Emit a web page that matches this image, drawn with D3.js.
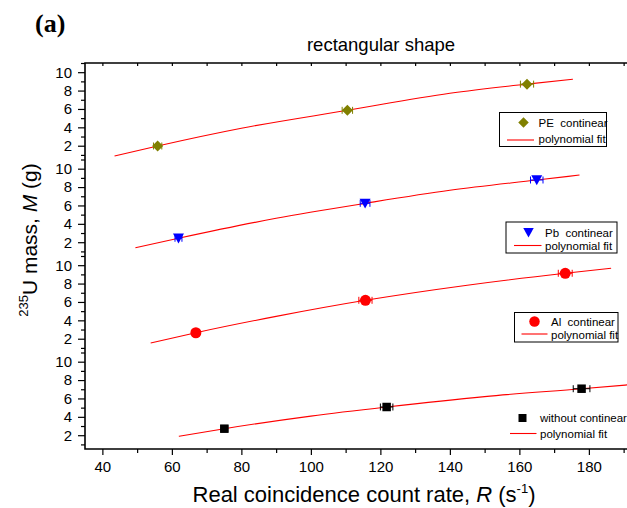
<!DOCTYPE html>
<html>
<head>
<meta charset="utf-8">
<script src="https://cdn.jsdelivr.net/npm/d3@7"></script>
<style>
  body { margin: 0; background: #fff; }
  svg text { font-family: "Liberation Sans", Arial, sans-serif; fill: #000; }
</style>
</head>
<body>
<svg id="chart" width="627" height="508"></svg>
<script>
// Values (R in s^-1, M in g)
const seriesNames = ["PE  continear", "Pb  continear", "Al  continear", "without continear"];
const seriesColors = ["#808000", "#0000ff", "#ff0000", "#000000"];

const peRate = [55.9, 110.5, 162.2];
const peMass = [1.97, 5.85, 8.70];
const peRateErr = [1.2, 1.5, 1.9];
const peMassErr = [0.1, 0.15, 0.2];
const peFitRate = [43.5, 55.9, 80, 110.5, 140, 162.2, 175.4];
const peFitMass = [0.88, 1.97, 3.9, 5.85, 7.7, 8.70, 9.23];

const pbRate = [61.9, 115.6, 165.0];
const pbMass = [2.43, 6.23, 8.77];
const pbRateErr = [1.0, 1.4, 1.8];
const pbMassErr = [0.25, 0.3, 0.3];
const pbFitRate = [49.5, 61.9, 90, 115.6, 140, 165.0, 177.3];
const pbFitMass = [1.40, 2.43, 4.6, 6.23, 7.65, 8.77, 9.31];

const alRate = [66.9, 115.7, 173.2];
const alMass = [2.65, 6.18, 9.12];
const alRateErr = [1.0, 1.9, 2.0];
const alMassErr = [0.1, 0.15, 0.2];
const alFitRate = [53.9, 66.9, 90, 115.7, 145, 173.2, 186.4];
const alFitMass = [1.53, 2.65, 4.43, 6.18, 7.82, 9.12, 9.66];

const noRate = [75.1, 121.8, 177.9];
const noMass = [2.71, 5.07, 7.06];
const noRateErr = [1.0, 1.8, 2.4];
const noMassErr = [0.1, 0.15, 0.2];
const noFitRate = [62.0, 75.1, 100, 121.8, 150, 177.9, 195];
const noFitMass = [1.88, 2.71, 4.08, 5.07, 6.2, 7.06, 7.6];

const xMajorTicks = [40, 60, 80, 100, 120, 140, 160, 180];
const xMinorTicks = [50, 70, 90, 110, 130, 150, 170, 190];
const yMajorTicks = [2, 4, 6, 8, 10];
const yMinorTicks = [1, 3, 5, 7, 9, 11];

const svg = d3.select("#chart");
const width = 627;

const plotLeft = 85;
const plotTop = 63;
const panelHeight = 96.5;
const plotBottom = plotTop + panelHeight * 4;

const x = d3.scaleLinear().domain([35, 195]).range([plotLeft, 641]);

function panelScale(i) {
  const top = plotTop + i * panelHeight;
  return d3.scaleLinear().domain([0.5, 11]).range([top + panelHeight, top]);
}

const series = [
  { rate: peRate, mass: peMass, rErr: peRateErr, mErr: peMassErr, fitR: peFitRate, fitM: peFitMass, symbol: "diamond" },
  { rate: pbRate, mass: pbMass, rErr: pbRateErr, mErr: pbMassErr, fitR: pbFitRate, fitM: pbFitMass, symbol: "triangle" },
  { rate: alRate, mass: alMass, rErr: alRateErr, mErr: alMassErr, fitR: alFitRate, fitM: alFitMass, symbol: "circle" },
  { rate: noRate, mass: noMass, rErr: noRateErr, mErr: noMassErr, fitR: noFitRate, fitM: noFitMass, symbol: "square" },
].map((s, i) => ({ ...s, name: seriesNames[i], color: seriesColors[i] }));

// legend layout (absolute px)
const legendLayout = [
  { box: [499.5, 112.5, 107, 34], sym: [523.5, 122.5], text: 538.5, t1: 126.5, t2: 143, line: [507, 534, 140] },
  { box: [506, 222, 111, 31], sym: [528.5, 232.5], text: 545, t1: 236.5, t2: 249.5, line: [514, 541.5, 245.5] },
  { box: [514.5, 312.5, 103.5, 29.5], sym: [534.5, 321.5], text: 551, t1: 325.5, t2: 338.5, line: [521.5, 547.5, 334] },
  { box: null, sym: [522.5, 418], text: 540, t1: 422, t2: 437.5, line: [510, 536.5, 433.5] },
];

function markerPath(type, size) {
  const h = size / 2;
  if (type === "diamond") return `M0,${-h}L${h},0L0,${h}L${-h},0Z`;
  if (type === "triangle") return `M${-h},${-h * 0.85}L${h},${-h * 0.85}L0,${h * 0.95}Z`;
  if (type === "square") return `M${-h},${-h}H${h}V${h}H${-h}Z`;
  return d3.symbol(d3.symbolCircle, Math.PI * h * h)();
}
const markerSize = { diamond: 11, triangle: 11, circle: 11, square: 8.5 };

// Title and panel label
svg.append("text")
  .attr("x", 35).attr("y", 32)
  .style("font-family", "'Liberation Serif', 'Times New Roman', serif")
  .style("font-weight", "bold")
  .style("font-size", "26px")
  .text("(a)");

svg.append("text")
  .attr("x", 381).attr("y", 50.5)
  .attr("text-anchor", "middle")
  .style("font-size", "18.5px")
  .text("rectangular shape");

// clip for plot area
svg.append("clipPath").attr("id", "plot-clip")
  .append("rect")
  .attr("x", plotLeft).attr("y", plotTop)
  .attr("width", width - plotLeft).attr("height", plotBottom - plotTop);

const plot = svg.append("g").attr("clip-path", "url(#plot-clip)");

series.forEach((s, i) => {
  const y = panelScale(i);
  const g = plot.append("g");

  // Fit line
  const fitPts = s.fitR.map((r, k) => [r, s.fitM[k]]);
  g.append("path")
    .datum(fitPts)
    .attr("fill", "none")
    .attr("stroke", "#ff0000")
    .attr("stroke-width", 1.1)
    .attr("d", d3.line().x((d) => x(d[0])).y((d) => y(d[1])).curve(d3.curveMonotoneX));

  const pts = s.rate.map((r, k) => ({ r, m: s.mass[k], re: s.rErr[k], me: s.mErr[k] }));

  // Error bars
  const eb = g.selectAll(".err").data(pts).join("g").attr("stroke", s.color).attr("stroke-width", 1);
  eb.append("line")
    .attr("x1", (d) => x(d.r - d.re)).attr("x2", (d) => x(d.r + d.re))
    .attr("y1", (d) => y(d.m)).attr("y2", (d) => y(d.m));
  eb.append("line")
    .attr("x1", (d) => x(d.r - d.re)).attr("x2", (d) => x(d.r - d.re))
    .attr("y1", (d) => y(d.m) - 3.5).attr("y2", (d) => y(d.m) + 3.5);
  eb.append("line")
    .attr("x1", (d) => x(d.r + d.re)).attr("x2", (d) => x(d.r + d.re))
    .attr("y1", (d) => y(d.m) - 3.5).attr("y2", (d) => y(d.m) + 3.5);
  eb.append("line")
    .attr("x1", (d) => x(d.r)).attr("x2", (d) => x(d.r))
    .attr("y1", (d) => y(d.m - d.me)).attr("y2", (d) => y(d.m + d.me));

  // Markers
  g.selectAll(".pt").data(pts).join("path")
    .attr("transform", (d) => `translate(${x(d.r)},${y(d.m)})`)
    .attr("d", markerPath(s.symbol, markerSize[s.symbol]))
    .attr("fill", s.color);
});

// Legends
series.forEach((s, i) => {
  const L = legendLayout[i];
  const g = svg.append("g");
  if (L.box) {
    g.append("rect")
      .attr("x", L.box[0]).attr("y", L.box[1])
      .attr("width", L.box[2]).attr("height", L.box[3])
      .attr("fill", "#fff").attr("stroke", "#000").attr("stroke-width", 1);
  }
  g.append("path")
    .attr("transform", `translate(${L.sym[0]},${L.sym[1]})`)
    .attr("d", markerPath(s.symbol, markerSize[s.symbol] - 0.5))
    .attr("fill", s.color);
  g.append("line")
    .attr("x1", L.line[0]).attr("x2", L.line[1])
    .attr("y1", L.line[2]).attr("y2", L.line[2])
    .attr("stroke", "#ff0000").attr("stroke-width", 1.1);
  g.append("text")
    .attr("x", L.text).attr("y", L.t1)
    .attr("xml:space", "preserve")
    .style("font-size", "11.5px")
    .style("white-space", "pre")
    .text(s.name);
  g.append("text")
    .attr("x", L.text).attr("y", L.t2)
    .style("font-size", "11.5px")
    .text("polynomial fit");
});

// Axes
const axisColor = "#000";
series.forEach((s, i) => {
  const y = panelScale(i);
  const major = svg.append("g")
    .attr("transform", `translate(${plotLeft},0)`)
    .call(d3.axisLeft(y).tickValues(yMajorTicks).tickSize(7).tickPadding(6));
  major.select(".domain").remove();
  major.selectAll("text").style("font-size", "15px").attr("font-family", null);
  major.selectAll("line").attr("stroke-width", 1.2);

  const minor = svg.append("g")
    .attr("transform", `translate(${plotLeft},0)`)
    .call(d3.axisLeft(y).tickValues(yMinorTicks).tickSize(4).tickFormat(""));
  minor.select(".domain").remove();
  minor.selectAll("line").attr("stroke-width", 1.2);
});

const bottomMajor = svg.append("g")
  .attr("transform", `translate(0,${plotBottom})`)
  .call(d3.axisBottom(x).tickValues(xMajorTicks).tickSize(6).tickPadding(6));
bottomMajor.select(".domain").remove();
bottomMajor.selectAll("text").style("font-size", "15px").attr("font-family", null);
bottomMajor.selectAll("line").attr("stroke-width", 1.2);

const bottomMinor = svg.append("g")
  .attr("transform", `translate(0,${plotBottom})`)
  .call(d3.axisBottom(x).tickValues(xMinorTicks).tickSize(4).tickFormat(""));
bottomMinor.select(".domain").remove();
bottomMinor.selectAll("line").attr("stroke-width", 1.2);

const topTicks = svg.append("g")
  .attr("transform", `translate(0,${plotTop})`)
  .call(d3.axisBottom(x).tickValues(xMajorTicks.concat(xMinorTicks)).tickSize(3).tickFormat(""));
topTicks.select(".domain").remove();
topTicks.selectAll("line").attr("stroke-width", 1.2);

// Frame lines
svg.append("path")
  .attr("d", `M${width},${plotTop}H${plotLeft}V${plotBottom}H${width}`)
  .attr("fill", "none")
  .attr("stroke", axisColor)
  .attr("stroke-width", 1.6);

// Axis titles
const xTitle = svg.append("text")
  .attr("x", 364).attr("y", 502)
  .attr("text-anchor", "middle")
  .style("font-size", "22px");
xTitle.append("tspan").text("Real coincidence count rate, ");
xTitle.append("tspan").style("font-style", "italic").text("R");
xTitle.append("tspan").text(" (s");
xTitle.append("tspan").attr("dy", -9).style("font-size", "13px").text("-1");
xTitle.append("tspan").attr("dy", 9).text(")");

const yTitle = svg.append("text")
  .attr("transform", "translate(37,240) rotate(-90)")
  .attr("text-anchor", "middle")
  .style("font-size", "21px");
yTitle.append("tspan").attr("dy", -9).style("font-size", "13px").text("235");
yTitle.append("tspan").attr("dy", 9).text("U mass, ");
yTitle.append("tspan").style("font-style", "italic").text("M");
yTitle.append("tspan").text(" (g)");
</script>
</body>
</html>
